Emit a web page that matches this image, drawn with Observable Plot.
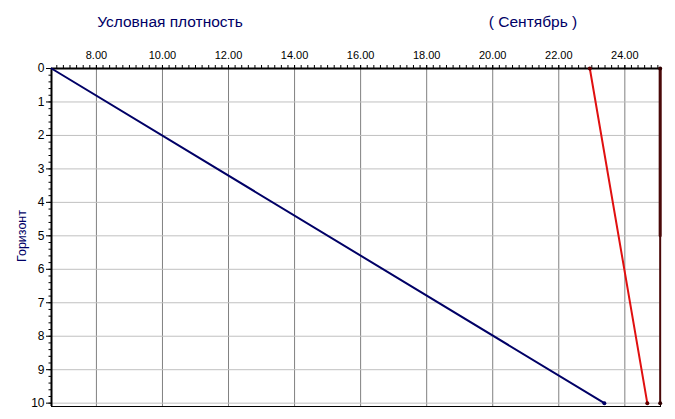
<!DOCTYPE html>
<html><head><meta charset="utf-8">
<script src="https://cdn.jsdelivr.net/npm/d3@7"></script>
<script src="https://cdn.jsdelivr.net/npm/@observablehq/plot@0.6"></script>
<style>body{margin:0;background:#fff;} svg{display:block;}</style>
</head><body><div id="chart"></div>
<script>
const depth = [0, 10];
const blueSeries = [6.64, 23.38];
const redSeries = [22.94, 24.68];
const maroonSeries = [25.07, 25.07];
const maroonThickDepth = [0, 5];
const maroonThick = [25.07, 25.07];
const xTicks = [8, 10, 12, 14, 16, 18, 20, 22, 24];
const yTicks = [0, 1, 2, 3, 4, 5, 6, 7, 8, 9, 10];
const title1 = "Условная плотность";
const title2 = "( Сентябрь )";
const yLabel = "Горизонт";

const toRows = (xs, ys) => xs.map((x, i) => ({x, y: ys[i]}));
const blue = toRows(blueSeries, depth);
const red = toRows(redSeries, depth);
const maroon = toRows(maroonSeries, depth);
const maroonT = toRows(maroonThick, maroonThickDepth);
const xMinor = d3.range(34, 126).map(i => +(i * 0.2).toFixed(2)).filter(v => v >= 6.64 && v <= 25.08);
const yMinor = d3.range(0, 51).map(i => +(i * 0.2).toFixed(2));

const chart = Plot.plot({
  width: 675, height: 419,
  marginLeft: 51, marginTop: 68, marginRight: 15, marginBottom: 13,
  style: {fontFamily: "Arial, 'Liberation Sans', sans-serif", fontSize: "11px", color: "#000", background: "#fff"},
  x: {domain: [6.64, 25.08], label: null},
  y: {domain: [0, 10.1], reverse: true, label: null},
  marks: [
    Plot.gridX(xTicks, {stroke: "#808080", strokeOpacity: 1}),
    Plot.gridY(yTicks.slice(1), {stroke: "#c0c0c0", strokeOpacity: 1}),
    Plot.frame({stroke: "#000", strokeWidth: 1}),
    Plot.ruleY([0], {stroke: "#000", strokeWidth: 2}),
    Plot.ruleX([6.64], {stroke: "#000", strokeWidth: 2}),
    Plot.axisX(xMinor, {anchor: "top", tickSize: 4, tickFormat: () => "", label: null, stroke: "#000"}),
    Plot.axisX(xTicks, {anchor: "top", tickSize: 4, tickPadding: 6, tickFormat: d => d.toFixed(2), label: null, fill: "#000", fontSize: 11}),
    Plot.axisY(yMinor, {anchor: "left", tickSize: 2.5, tickFormat: () => "", label: null, stroke: "#000"}),
    Plot.axisY(yTicks, {anchor: "left", tickSize: 5, tickPadding: 2, label: null, fill: "#000", fontSize: 12}),
    Plot.line(blue, {x: "x", y: "y", stroke: "#000066", strokeWidth: 2}),
    Plot.line(red, {x: "x", y: "y", stroke: "#e01010", strokeWidth: 2}),
    Plot.line(maroon, {x: "x", y: "y", stroke: "#4a0808", strokeWidth: 2}),
    Plot.line(maroonT, {x: "x", y: "y", stroke: "#4a0808", strokeWidth: 3}),
    Plot.dot(blue.slice(1), {x: "x", y: "y", r: 2, fill: "#000066"}),
    Plot.dot(red, {x: "x", y: "y", r: 2, fill: "#600000"}),
    Plot.dot(maroon, {x: "x", y: "y", r: 2, fill: "#300000"})
  ]
});
document.getElementById("chart").appendChild(chart);
const svg = d3.select(chart);
const ff = "Arial, 'Liberation Sans', sans-serif";
svg.append("text").attr("x", 170).attr("y", 27).attr("text-anchor", "middle")
  .attr("fill", "#000066").style("font-size", "15.5px").style("font-family", ff).text(title1);
svg.append("text").attr("x", 533).attr("y", 27).attr("text-anchor", "middle")
  .attr("fill", "#000066").style("font-size", "15.5px").style("font-family", ff).text(title2);
svg.append("text").attr("transform", "translate(26,236) rotate(-90)").attr("text-anchor", "middle")
  .attr("fill", "#000066").style("font-size", "12.5px").style("font-family", ff).text(yLabel);
</script></body></html>
